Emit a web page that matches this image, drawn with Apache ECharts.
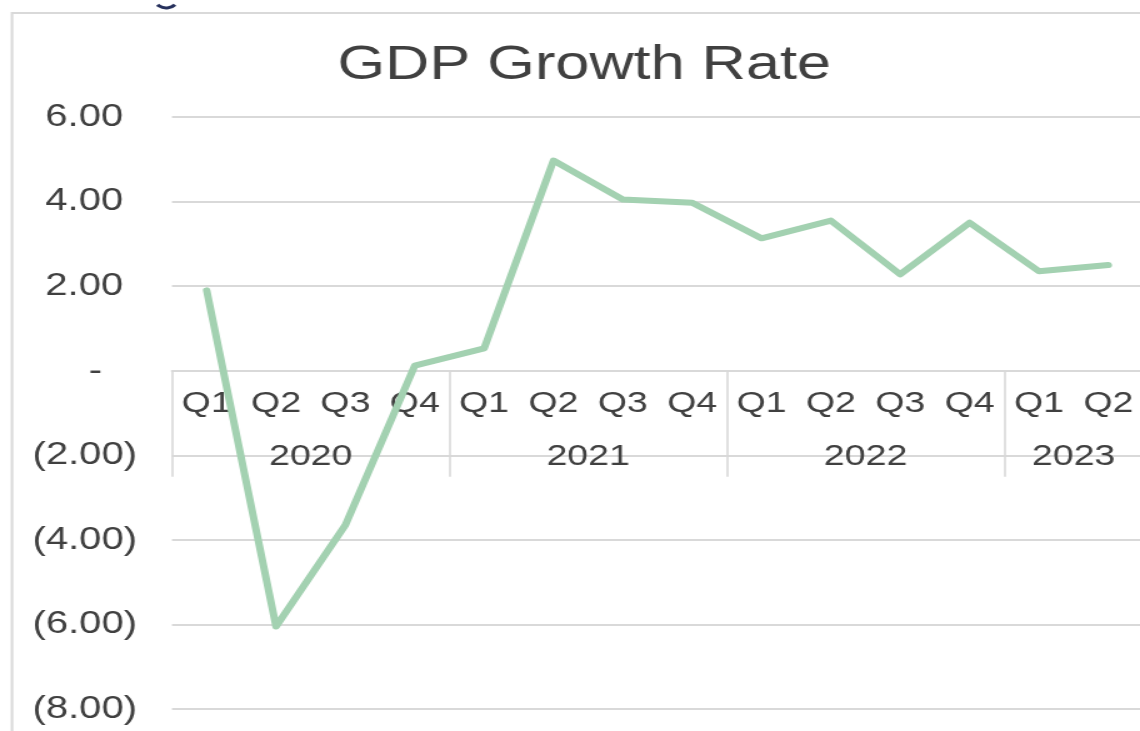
<!DOCTYPE html>
<html>
<head>
<meta charset="utf-8">
<title>GDP Growth Rate</title>
<script src="https://cdn.jsdelivr.net/npm/echarts@6/dist/echarts.min.js"></script>
<style>
  html, body { margin: 0; padding: 0; background: #ffffff; overflow: hidden; }
  /* the chart is laid out narrow and widened horizontally, like a stretched sheet export */
  #chart { width: 915px; height: 731px; transform: scaleX(1.25); transform-origin: 0 0; }
</style>
</head>
<body>
<div id="chart"></div>
<script>
// Quarterly GDP growth (%)
const quarters = ['Q1', 'Q2', 'Q3', 'Q4', 'Q1', 'Q2', 'Q3', 'Q4', 'Q1', 'Q2', 'Q3', 'Q4', 'Q1', 'Q2'];
const years = ['2020', '2021', '2022', '2023'];
const quartersPerYear = [4, 4, 4, 2];
const gdpGrowth = [1.9, -6.05, -3.65, 0.12, 0.53, 4.97, 4.05, 3.97, 3.13, 3.55, 2.28, 3.5, 2.35, 2.5];
const yTickLabels = ['(8.00)', '(6.00)', '(4.00)', '(2.00)', '-', '2.00', '4.00', '6.00'];
const yMin = -8, yMax = 6, yStep = 2;

const FONT = "'Liberation Sans', Arial, sans-serif";
const TEXT = '#404040';
const RULE = '#d9d9d9';

const gridTop = 117, gridBottom = 22, chartH = 731;
const plotH = chartH - gridTop - gridBottom;
// distance from the plot bottom up to the zero line; both category rows hang from it
const zeroOffset = -plotH * (0 - yMin) / (yMax - yMin);

// year row: one slot per quarter boundary, year name at the middle of its group
const yearAxisData = new Array(quarters.length + 1).fill('');
const yearEdges = new Set([0]);
let start = 0;
years.forEach((y, i) => {
  const n = quartersPerYear[i];
  yearAxisData[start + n / 2] = y;
  start += n;
  yearEdges.add(start);
});

const chart = echarts.init(document.getElementById('chart'), null, { renderer: 'canvas' });
chart.setOption({
  backgroundColor: '#ffffff',
  animation: false,
  textStyle: { fontFamily: FONT },
  title: {
    text: 'GDP Growth Rate',
    left: 265,
    top: 35.6,
    textStyle: { fontFamily: FONT, fontSize: 49, fontWeight: 'normal', color: TEXT }
  },
  graphic: [
    {
      type: 'rect',
      shape: { x: 9.6, y: 13, width: 1000, height: 1000 },
      style: { fill: 'none', stroke: RULE, lineWidth: 2 },
      silent: true
    },
    {
      type: 'arc',
      shape: { cx: 133, cy: -1, r: 9, startAngle: Math.PI * 0.22, endAngle: Math.PI * 0.78 },
      style: { fill: 'none', stroke: '#26305c', lineWidth: 3 },
      silent: true
    }
  ],
  grid: {
    left: 137.6, right: 0.6, top: gridTop, bottom: gridBottom,
    containLabel: false,
    outerBoundsMode: 'none'
  },
  xAxis: [
    {
      type: 'category',
      data: quarters,
      boundaryGap: true,
      position: 'bottom',
      offset: zeroOffset,
      axisLine: { show: true, onZero: false, lineStyle: { color: RULE, width: 2 } },
      axisTick: { show: false },
      axisLabel: {
        interval: 0, margin: 18.3,
        fontFamily: FONT, fontSize: 30, color: TEXT
      },
      splitLine: { show: false }
    },
    {
      type: 'category',
      data: yearAxisData,
      boundaryGap: false,
      position: 'bottom',
      offset: zeroOffset,
      axisLine: { show: false, onZero: false },
      axisTick: {
        show: true,
        length: 106,
        interval: (index) => yearEdges.has(index),
        lineStyle: { color: RULE, width: 1.6 }
      },
      axisLabel: {
        interval: 0, margin: 70.8,
        fontFamily: FONT, fontSize: 30, color: TEXT
      },
      splitLine: { show: false }
    }
  ],
  yAxis: {
    type: 'value',
    min: yMin,
    max: yMax,
    interval: yStep,
    axisLine: { show: false },
    axisTick: { show: false },
    splitLine: { show: true, lineStyle: { color: RULE, width: 2 } },
    axisLabel: {
      margin: 28,
      formatter: (v) => {
        const label = yTickLabels[Math.round((v - yMin) / yStep)];
        if (v < 0) return '{neg|' + label + '}';
        if (v === 0) return '{zero|' + label + '}';
        return '{pos|' + label + '}';
      },
      rich: {
        neg: { fontFamily: FONT, fontSize: 32, color: TEXT },
        pos: { fontFamily: FONT, fontSize: 32, color: TEXT, padding: [0, 11, 0, 0] },
        zero: { fontFamily: FONT, fontSize: 32, color: TEXT, padding: [0, 28, 0, 0] }
      }
    }
  },
  series: [
    {
      name: 'GDP Growth Rate',
      type: 'line',
      xAxisIndex: 0,
      yAxisIndex: 0,
      data: gdpGrowth,
      showSymbol: false,
      symbol: 'none',
      smooth: false,
      lineStyle: { color: '#a3d1b1', width: 6, join: 'round', cap: 'round' },
      z: 3
    }
  ]
});
</script>
</body>
</html>
